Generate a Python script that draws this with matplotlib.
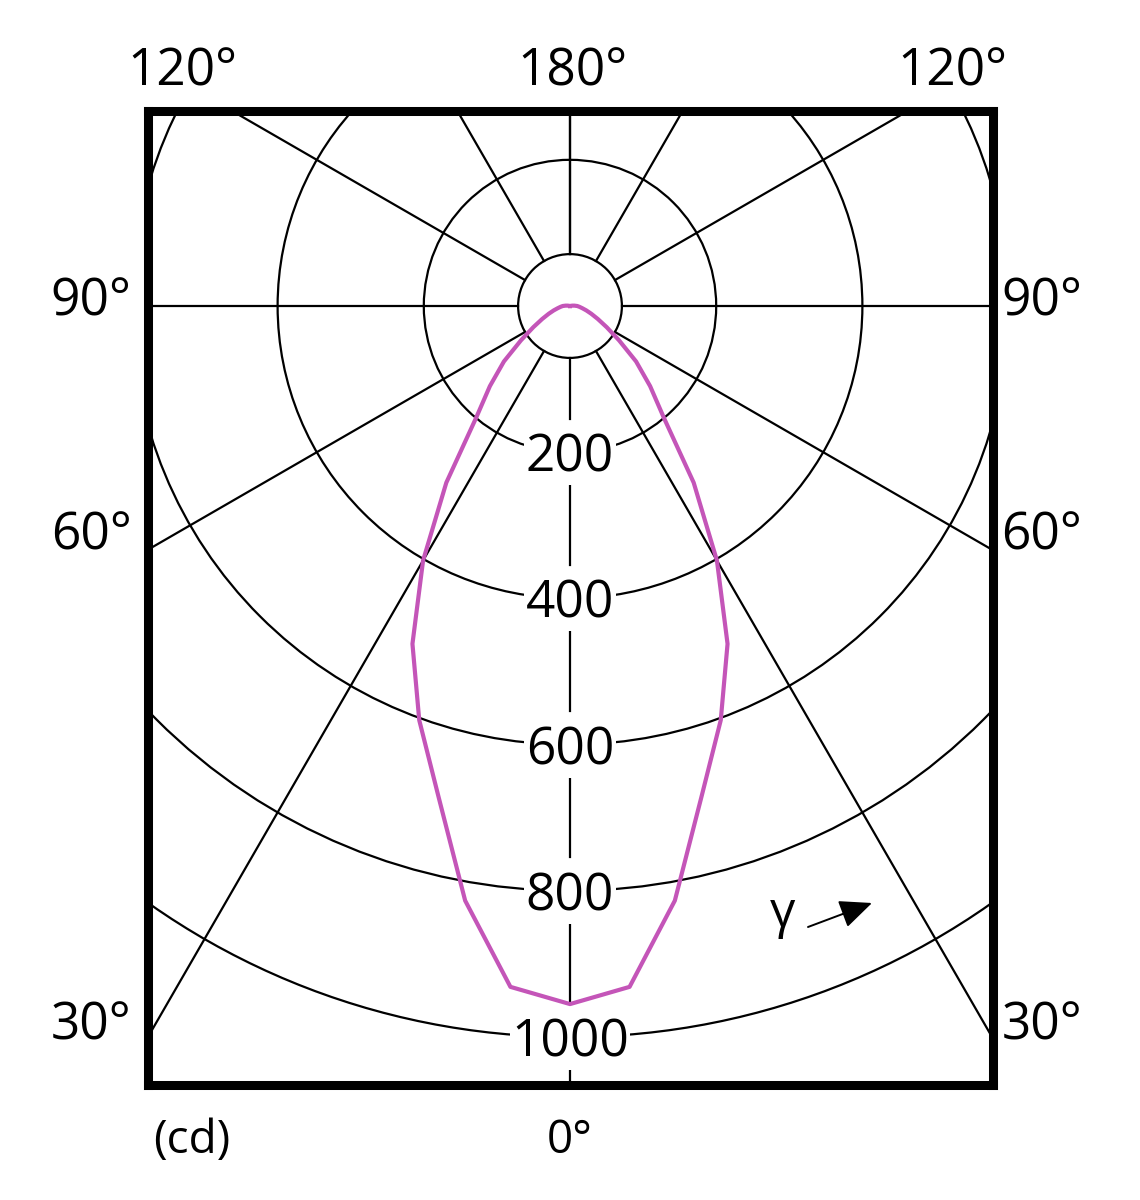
"""Polar luminous intensity diagram (cd) of a narrow-beam luminaire."""

import numpy as np
import matplotlib

matplotlib.use("Agg")
import matplotlib.pyplot as plt
from matplotlib.patches import Circle

plt.rcParams["font.family"] = ["Open Sans", "DejaVu Sans"]
plt.rcParams["font.weight"] = 500

# intensity distribution (symmetric C0/C180 plane)
gamma_deg = [0, 5, 10, 15, 20, 25, 30, 35, 40, 45, 50, 55, 60, 65, 70, 75, 80, 85, 90,
             95, 100, 105, 110, 120, 130, 140, 150, 160, 170, 180]
intensity_cd = [955, 935, 826, 695, 603, 510, 402, 295, 200, 155, 118, 82, 58, 42, 31, 23, 17, 13, 10,
                6, 3, 0, 0, 0, 0, 0, 0, 0, 0, 0]

ring_values = [200, 400, 600, 800, 1000]
ring_labels = ["200", "400", "600", "800", "1000"]
hub_cd = 71
spoke_angles = [30, 60, 90, 120, 150, 180]

# angle labels around the frame: (text, x px, baseline y px, size)
frame_labels = [
    ("120°", 182, 85, 37), ("180°", 572, 85, 37), ("120°", 952, 85, 37),
    ("90°", 91, 316, 37), ("90°", 1042, 316, 37),
    ("60°", 91, 549, 37), ("60°", 1042, 549, 37),
    ("30°", 91, 1039, 37), ("30°", 1042, 1039, 37),
    ("0°", 570, 1153, 33), ("(cd)", 192, 1153, 33),
]

W, H = 1140, 1200
CURVE = "#c455b8"
GRID_LW = 1.6


def main() -> None:
    fig = plt.figure(figsize=(W / 100, H / 100), dpi=100)
    ax = fig.add_axes([147.5 / W, 1 - 1085 / H, 845 / W, 974 / H])
    ax.set_xlim(-578, 578)
    ax.set_ylim(-1065.7, 266.8)
    ax.set_xticks([])
    ax.set_yticks([])
    for sp in ax.spines.values():
        sp.set_linewidth(6.5)
        sp.set_capstyle("projecting")

    # rings and hub
    for v in ring_values + [hub_cd]:
        ax.add_patch(Circle((0, 0), v, fill=False, ec="black", lw=GRID_LW, zorder=1))

    # spokes, starting at the hub
    for a in spoke_angles:
        g = np.radians(a)
        for side in (-1, 1):
            ax.plot([side * hub_cd * np.sin(g), side * 2000 * np.sin(g)],
                    [-hub_cd * np.cos(g), -2000 * np.cos(g)],
                    color="black", lw=GRID_LW, zorder=1)

    # 0 deg axis, interrupted by the ring labels
    gap = 46
    start = hub_cd
    for v in ring_values:
        ax.plot([0, 0], [-start, -(v - gap)], color="black", lw=GRID_LW, zorder=1)
        start = v + gap
    ax.plot([0, 0], [-start, -2000], color="black", lw=GRID_LW, zorder=1)

    for v, lab in zip(ring_values, ring_labels):
        ax.text(0, -v, lab, ha="center", va="center_baseline", fontsize=37, zorder=3,
                bbox=dict(boxstyle="square,pad=0.03", fc="white", ec="none"))

    # intensity curve, mirrored to both halves
    g = np.radians(gamma_deg)
    inten = np.asarray(intensity_cd, dtype=float)
    x_right = inten * np.sin(g)
    y_curve = -inten * np.cos(g)
    xs = np.concatenate([-x_right[::-1], x_right[1:]])
    ys = np.concatenate([y_curve[::-1], y_curve[1:]])
    ax.plot(xs, ys, color=CURVE, lw=3.0, zorder=4, solid_joinstyle="round")

    # gamma direction marker
    fig.text(783 / W, 1 - 927 / H, "γ", ha="center", va="baseline", fontsize=36)
    ax.annotate("", xy=(872, H - 903), xytext=(808, H - 927),
                xycoords="figure pixels", textcoords="figure pixels",
                arrowprops=dict(arrowstyle="-|>,head_length=0.5,head_width=0.22",
                                mutation_scale=40, lw=1.4, color="black",
                                shrinkA=0, shrinkB=0))

    for text, x, y, size in frame_labels:
        fig.text(x / W, 1 - y / H, text, ha="center", va="baseline", fontsize=size)

    fig.savefig("out.png", dpi=100, facecolor="white")
    plt.close(fig)


if __name__ == "__main__":
    main()
